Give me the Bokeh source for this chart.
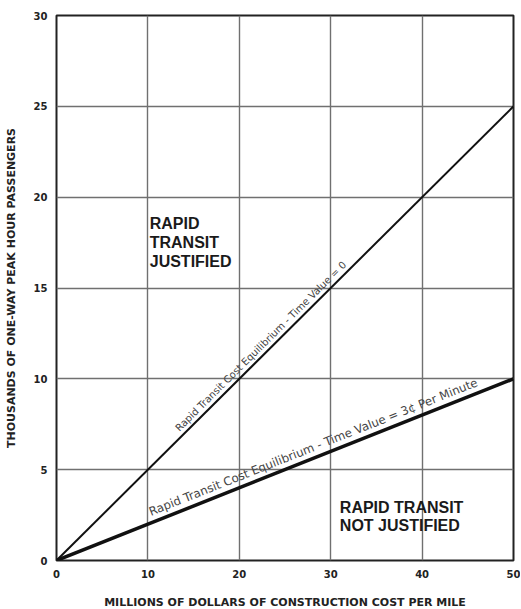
import math
from bokeh.plotting import figure
from bokeh.models import Range1d, FixedTicker
from bokeh.core.properties import value
from bokeh.embed import file_html
from bokeh.resources import INLINE

# ---- data ----
cost_millions = [0, 50]                 # x: construction cost per mile
pax_time_value_0 = [0, 25]              # thousands of passengers, time value = 0
pax_time_value_3c = [0, 10]             # thousands of passengers, time value = 3c/min
x_ticks = [0, 10, 20, 30, 40, 50]
y_ticks = [0, 5, 10, 15, 20, 25, 30]
label_time0 = "Rapid Transit Cost Equilibrium - Time Value = 0"
label_time3 = "Rapid Transit Cost Equilibrium - Time Value = 3\u00a2 Per Minute"
label_time0_start = 13.8
label_time3_start = 10.6
region_justified = "RAPID\nTRANSIT\nJUSTIFIED"
region_not_justified = "RAPID TRANSIT\nNOT JUSTIFIED"
region_justified_pos = (10.2, 19.0)
region_not_justified_pos = (31.0, 3.4)

# ---- layout ----
FW, FH = 457, 545
XMAX, YMAX = 50, 30

p = figure(frame_width=FW, frame_height=FH, output_backend="svg", toolbar_location=None,
           x_range=Range1d(0, XMAX), y_range=Range1d(0, YMAX),
           min_border_left=56, min_border_right=7, min_border_top=15, min_border_bottom=49,
           background_fill_color="white", border_fill_color="white")

p.outline_line_color = "#222222"
p.outline_line_width = 2

for g in (p.xgrid, p.ygrid):
    g.grid_line_color = "#707070"
    g.grid_line_width = 1.4
p.xgrid.ticker = FixedTicker(ticks=x_ticks)
p.ygrid.ticker = FixedTicker(ticks=y_ticks)

p.xaxis.ticker = FixedTicker(ticks=x_ticks)
p.yaxis.ticker = FixedTicker(ticks=y_ticks)
for ax in (p.xaxis, p.yaxis):
    ax.axis_line_color = None
    ax.major_tick_line_color = None
    ax.minor_tick_line_color = None
    ax.major_tick_out = 0
    ax.major_tick_in = 0
    ax.major_label_text_font = "DejaVu Sans"
    ax.major_label_text_font_style = "bold"
    ax.major_label_text_font_size = "10px"
    ax.major_label_text_color = "#222222"
    ax.axis_label_text_font = "DejaVu Sans"
    ax.axis_label_text_font_style = "bold"
    ax.axis_label_text_font_size = "11px"
    ax.axis_label_text_color = "#222222"

p.xaxis.axis_label = "MILLIONS OF DOLLARS OF CONSTRUCTION COST PER MILE"
p.yaxis.axis_label = "THOUSANDS OF ONE-WAY PEAK HOUR PASSENGERS"
p.xaxis.major_label_standoff = 9
p.yaxis.major_label_standoff = 9
p.xaxis.axis_label_standoff = 15
p.yaxis.axis_label_standoff = 13

# ---- lines ----
p.line(cost_millions, pax_time_value_0, line_color="#111111", line_width=2)
p.line(cost_millions, pax_time_value_3c, line_color="#111111", line_width=3.5)

# ---- labels along lines ----
sx = FW / XMAX
sy = FH / YMAX
slope0 = (pax_time_value_0[1] - pax_time_value_0[0]) / (cost_millions[1] - cost_millions[0])
slope3 = (pax_time_value_3c[1] - pax_time_value_3c[0]) / (cost_millions[1] - cost_millions[0])
a0 = math.atan2(slope0 * sy, sx)
a3 = math.atan2(slope3 * sy, sx)
gap0, gap3 = 2.5, 3.5
p.text(x=[label_time0_start], y=[label_time0_start * slope0], text=[label_time0],
       angle=a0, x_offset=-math.sin(a0) * gap0, y_offset=-math.cos(a0) * gap0,
       text_font=value("DejaVu Sans"), text_font_size="10px", text_color="#444444",
       text_align="left", text_baseline="bottom")
p.text(x=[label_time3_start], y=[label_time3_start * slope3], text=[label_time3],
       angle=a3, x_offset=-math.sin(a3) * gap3, y_offset=-math.cos(a3) * gap3,
       text_font=value("DejaVu Sans"), text_font_size="11.8px", text_color="#444444",
       text_align="left", text_baseline="bottom")

# ---- region labels ----
p.text(x=[region_justified_pos[0]], y=[region_justified_pos[1]], text=[region_justified],
       text_font=value("Liberation Sans"), text_font_style="bold", text_font_size="16px",
       text_color="#1a1a1a", text_align="left", text_baseline="top", text_line_height=1.1)
p.text(x=[region_not_justified_pos[0]], y=[region_not_justified_pos[1]], text=[region_not_justified],
       text_font=value("Liberation Sans"), text_font_style="bold", text_font_size="16px",
       text_color="#1a1a1a", text_align="left", text_baseline="top", text_line_height=1.1)

open("out.html", "w").write(file_html(p, INLINE))
